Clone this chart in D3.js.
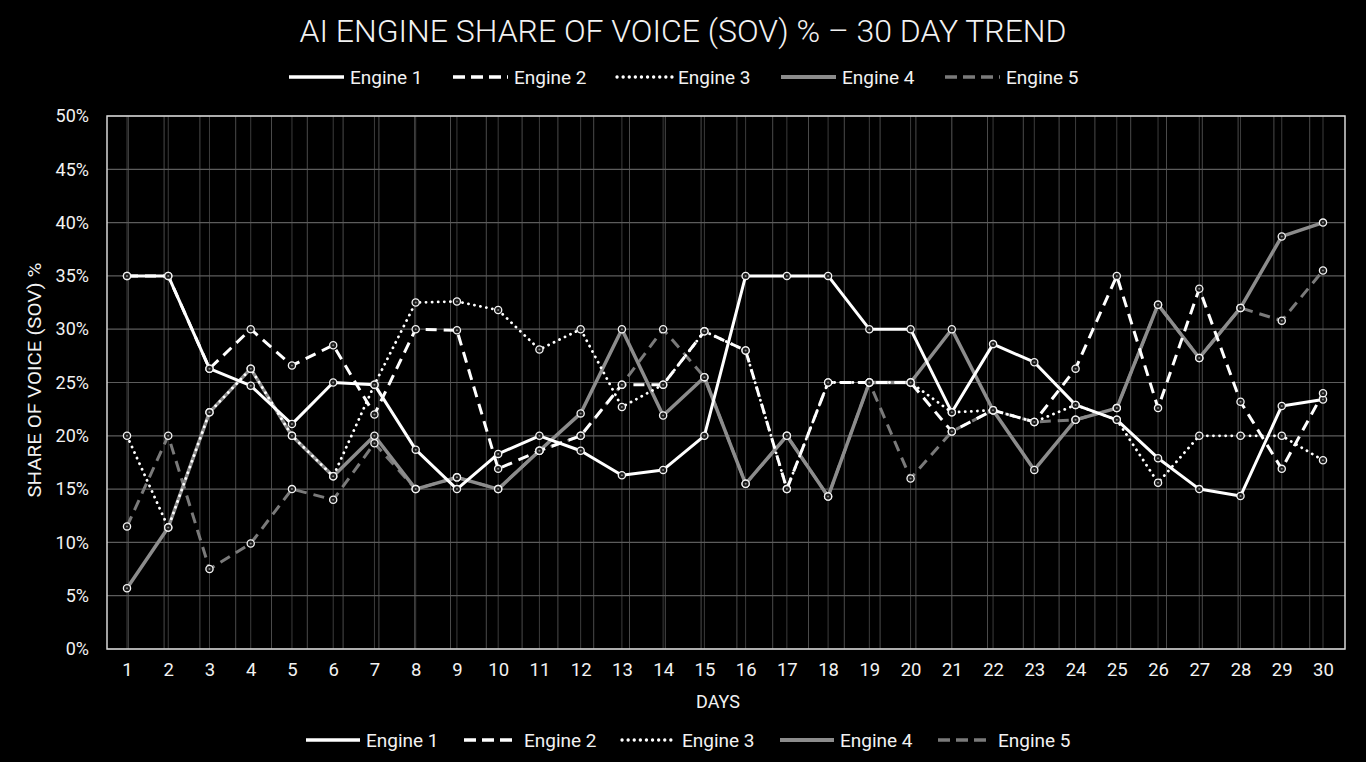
<!DOCTYPE html>
<html>
<head>
<meta charset="utf-8">
<script src="https://cdn.jsdelivr.net/npm/d3@7/dist/d3.min.js"></script>
<style>
html,body{margin:0;padding:0;background:#000;}
svg{display:block;}
text{font-family:Roboto,"Noto Sans",sans-serif;fill:#f2f2f2;}
</style>
</head>
<body>
<svg id="chart" width="1366" height="762"></svg>
<script>
// ---- data ----
const days = d3.range(1, 31);
const engines = ["Engine 1", "Engine 2", "Engine 3", "Engine 4", "Engine 5"];
const engine1 = [35,35,26.3,24.7,21.1,25,24.8,18.7,15,18.3,20,18.6,16.3,16.8,20,35,35,35,30,30,22.2,28.6,26.9,22.9,21.5,17.9,15,14.35,22.8,23.4];
const engine2 = [35,35,26.3,30,26.6,28.5,22,30,29.9,16.9,18.6,20,24.8,24.8,29.8,28,15,25,25,25,20.4,22.4,21.3,26.3,35,22.6,33.8,23.2,16.9,24];
const engine3 = [20,11.4,22.2,26.3,20,16.2,24.8,32.5,32.6,31.8,28.1,30,22.7,24.8,29.8,28,15,25,25,25,22.2,22.4,21.3,22.9,21.5,15.6,20,20,20,17.7];
const engine4 = [5.7,11.4,22.2,26.3,20,16.2,20,15,16.1,15,18.6,22.1,30,21.9,25.5,15.5,20,14.3,25,25,30,22.4,16.8,21.5,22.6,32.3,27.3,32,38.7,40];
const engine5 = [11.5,20,7.5,9.9,15,14,19.3,15,16.1,15,18.6,20,24.8,30,25.5,15.5,20,14.3,25,16,20.4,22.4,21.3,21.5,22.6,32.3,27.3,32,30.8,35.5];
const yTicks = [0,5,10,15,20,25,30,35,40,45,50];
const titleText = "AI ENGINE SHARE OF VOICE (SOV) % \u2013 30 DAY TREND";
const xTitle = "DAYS";
const yTitle = "SHARE OF VOICE (SOV) %";

const seriesValues = [engine1, engine2, engine3, engine4, engine5];
const styles = [
  {color:"#ffffff", width:3, dash:null},
  {color:"#ffffff", width:3, dash:"11,7"},
  {color:"#ffffff", width:2.8, dash:"0.1,6", cap:"round"},
  {color:"#8c8c8c", width:3.5, dash:null},
  {color:"#7a7a7a", width:3, dash:"11,7"}
];

// ---- layout ----
const svg = d3.select("#chart");
const plot = {left:107, right:1345, top:116, bottom:649};
const x = d3.scaleLinear().domain([1, 30]).range([127, 1323]);
const y = d3.scaleLinear().domain([0, 50]).range([plot.bottom, plot.top]);

svg.append("rect").attr("width",1366).attr("height",762).attr("fill","#000");

const grid = svg.append("g");
// regular vertical grid
const gridStep = 35.8;
d3.range(128.3, plot.right - 5, gridStep).forEach(gx => {
  grid.append("line").attr("x1",gx).attr("x2",gx).attr("y1",plot.top).attr("y2",plot.bottom)
    .attr("stroke","#4a4a4a").attr("stroke-width",1);
});
// day gridlines
grid.selectAll("line.day").data(days).join("line").attr("class","day")
  .attr("x1",d=>x(d)).attr("x2",d=>x(d)).attr("y1",plot.top).attr("y2",plot.bottom)
  .attr("stroke","#3c3c3c").attr("stroke-width",1);
// horizontal grid
grid.selectAll("line.h").data(yTicks).join("line").attr("class","h")
  .attr("x1",plot.left).attr("x2",plot.right).attr("y1",d=>y(d)).attr("y2",d=>y(d))
  .attr("stroke","#5c5c5c").attr("stroke-width",1.2);
// frame
svg.append("rect").attr("x",plot.left).attr("y",plot.top)
  .attr("width",plot.right-plot.left).attr("height",plot.bottom-plot.top)
  .attr("fill","none").attr("stroke","#d8d8d8").attr("stroke-width",1.5);

// y axis
const yAxis = d3.axisLeft(y).tickValues(yTicks).tickFormat(d=>d+"%").tickSize(0).tickPadding(18);
const gy = svg.append("g").attr("transform",`translate(${plot.left},0)`).call(yAxis);
gy.select(".domain").remove();
gy.selectAll("text").style("font-size","18px").attr("fill","#f0f0f0");

// x axis
const xAxis = d3.axisBottom(x).tickValues(days).tickFormat(d=>d).tickSize(0).tickPadding(14);
const gx = svg.append("g").attr("transform",`translate(0,${plot.bottom})`).call(xAxis);
gx.select(".domain").remove();
gx.selectAll("text").style("font-size","18.5px").attr("fill","#f0f0f0");

// axis titles
svg.append("text").attr("x",718).attr("y",701).attr("text-anchor","middle")
  .attr("dominant-baseline","central").style("font-size","18px").text(xTitle);
svg.append("text").attr("transform","translate(34,380) rotate(-90)").attr("text-anchor","middle")
  .attr("dominant-baseline","central").style("font-size","18px")
  .attr("textLength",235).attr("lengthAdjust","spacingAndGlyphs").text(yTitle);

// title
svg.append("text").attr("x",683).attr("y",31).attr("text-anchor","middle")
  .attr("dominant-baseline","central").style("font-size","31px").style("font-weight","300")
  .attr("textLength",767).attr("lengthAdjust","spacingAndGlyphs").text(titleText);

// lines
const line = d3.line().x((d,i)=>x(days[i])).y(d=>y(d));
const linesG = svg.append("g");
[4,3,2,1,0].forEach(k => {
  const s = styles[k];
  linesG.append("path").datum(seriesValues[k]).attr("d",line)
    .attr("fill","none").attr("stroke",s.color).attr("stroke-width",s.width)
    .attr("stroke-dasharray",s.dash).attr("stroke-linecap",s.cap||"butt")
    .attr("stroke-linejoin","round");
});
// markers
const markG = svg.append("g");
seriesValues.forEach((vals,k) => {
  const g = markG.append("g");
  g.selectAll("circle.o").data(vals).join("circle").attr("class","o")
    .attr("cx",(d,i)=>x(days[i])).attr("cy",d=>y(d)).attr("r",3.6)
    .attr("fill","#1a1a1a").attr("stroke","#f4f4f4").attr("stroke-width",1.3);
  g.selectAll("circle.i").data(vals).join("circle").attr("class","i")
    .attr("cx",(d,i)=>x(days[i])).attr("cy",d=>y(d)).attr("r",1)
    .attr("fill","#888");
});

// legends
function legend(yPos, startX, step, lineLen) {
  const g = svg.append("g");
  engines.forEach((name,k) => {
    const s = styles[k];
    const lx = startX + k*step;
    g.append("line").attr("x1",lx).attr("x2",lx+lineLen).attr("y1",yPos).attr("y2",yPos)
      .attr("stroke",s.color).attr("stroke-width",s.width+0.5)
      .attr("stroke-dasharray",s.dash ? (k===2 ? "0.1,6" : "12,6") : null)
      .attr("stroke-linecap",s.cap||"butt");
    g.append("text").attr("x",lx+lineLen+6).attr("y",yPos).attr("dominant-baseline","central")
      .style("font-size","19px").text(name);
  });
}
legend(77, 289, 164, 55);
legend(740, 306, 158, 54);
</script>
</body>
</html>
